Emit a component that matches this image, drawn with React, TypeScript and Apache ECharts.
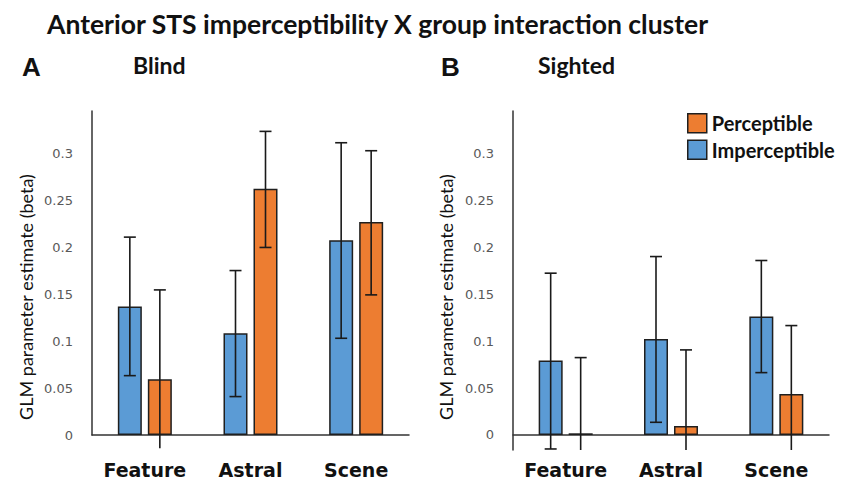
import React, { useEffect, useRef } from 'react';
import * as echarts from 'echarts';

// ---- data ----
const categories = ['Feature', 'Astral', 'Scene'];
const legendOrder = ['Perceptible', 'Imperceptible'];
const yTickValues = [0, 0.05, 0.1, 0.15, 0.2, 0.25, 0.3];

const blindImperceptible = [0.1368, 0.1084, 0.2075];
const blindImperceptibleLow = [0.0632, 0.0409, 0.103];
const blindImperceptibleHigh = [0.2107, 0.1751, 0.3112];
const blindImperceptibleLowCap = [true, true, true];

const blindPerceptible = [0.0593, 0.2622, 0.2267];
const blindPerceptibleLow = [-0.0142, 0.1997, 0.1492];
const blindPerceptibleHigh = [0.1545, 0.3233, 0.3027];
const blindPerceptibleLowCap = [false, true, true];

const sightedImperceptible = [0.0792, 0.1023, 0.1261];
const sightedImperceptibleLow = [-0.0149, 0.0135, 0.0664];
const sightedImperceptibleHigh = [0.1723, 0.19, 0.1858];
const sightedImperceptibleLowCap = [true, true, true];

const sightedPerceptible = [0.0018, 0.0096, 0.0437];
const sightedPerceptibleLow = [-0.016, -0.016, -0.016];
const sightedPerceptibleHigh = [0.0824, 0.0906, 0.1165];
const sightedPerceptibleLowCap = [false, false, false];

// ---- styles ----
const BLUE = '#5b9bd5';
const ORANGE = '#ed7d31';
const EDGE = '#1f1f1f';
const BAR_W = 24;
const BAR_OFFSET = 15;
const CAP_HALF = 6;
const CALIBRI = 'Lato, "Open Sans", sans-serif';

function barSeries(name: string, idx: number, values: number[], color: string) {
  return {
    type: 'bar',
    name,
    xAxisIndex: idx,
    yAxisIndex: idx,
    data: values,
    barWidth: BAR_W,
    barGap: '25%',
    itemStyle: { color, borderColor: EDGE, borderWidth: 1.5 },
    z: 2,
  };
}

function errorSeries(idx: number, low: number[], high: number[], lowCap: boolean[], offset: number) {
  return {
    type: 'custom',
    xAxisIndex: idx,
    yAxisIndex: idx,
    silent: true,
    z: 5,
    clip: false,
    data: categories.map((_, i) => [i, low[i], high[i], lowCap[i] ? 1 : 0]),
    encode: { x: 0, y: [1, 2] },
    renderItem: (_params: any, api: any) => {
      const xi = api.value(0);
      const lo = api.coord([xi, api.value(1)]);
      const hi = api.coord([xi, api.value(2)]);
      const cx = lo[0] + offset;
      const st = { stroke: '#1a1a1a', lineWidth: 1.6 };
      const children: any[] = [
        { type: 'line', shape: { x1: cx, y1: hi[1], x2: cx, y2: lo[1] }, style: st },
        { type: 'line', shape: { x1: cx - CAP_HALF, y1: hi[1], x2: cx + CAP_HALF, y2: hi[1] }, style: st },
      ];
      if (api.value(3) === 1) {
        children.push({ type: 'line', shape: { x1: cx - CAP_HALF, y1: lo[1], x2: cx + CAP_HALF, y2: lo[1] }, style: st });
      }
      return { type: 'group', children };
    },
  };
}

function xAxis(idx: number, margin: number) {
  return {
    type: 'category',
    gridIndex: idx,
    data: categories,
    axisLine: { onZero: true, lineStyle: { color: '#333', width: 1.5 } },
    axisTick: { show: false },
    axisLabel: {
      interval: 0,
      margin,
      color: '#111',
      fontFamily: 'DejaVu Sans',
      fontWeight: 'bold',
      fontSize: 19,
    },
  };
}

function yAxis(idx: number, min: number) {
  return {
    type: 'value',
    gridIndex: idx,
    min,
    max: 0.345,
    splitLine: { show: false },
    axisTick: { show: false },
    axisLine: { show: true, onZero: false, lineStyle: { color: '#333', width: 1.5 } },
    axisLabel: {
      customValues: yTickValues,
      margin: 19,
      color: '#595959',
      fontFamily: 'DejaVu Sans',
      fontSize: 13,
      formatter: (v: number) => String(Number(v.toFixed(2))),
    },
  };
}

export default function App() {
  const ref = useRef<HTMLDivElement>(null);
  useEffect(() => {
    if (!ref.current) return;
    const chart = echarts.init(ref.current, null, { renderer: 'svg' });
    const yNameStyle = { fill: '#111', fontFamily: CALIBRI, fontSize: 18, align: 'center', verticalAlign: 'middle' };
    chart.setOption({
      animation: false,
      backgroundColor: '#fff',
      grid: [
        { left: 92, top: 111, right: 841 - 409, bottom: 44, containLabel: false, outerBoundsMode: 'none' },
        { left: 513, top: 111, right: 841 - 829, bottom: 29, containLabel: false, outerBoundsMode: 'none' },
      ],
      xAxis: [xAxis(0, 25), xAxis(1, 10)],
      yAxis: [yAxis(0, 0), yAxis(1, -0.016)],
      legend: {
        data: legendOrder,
        orient: 'vertical',
        left: 687,
        top: 113,
        padding: 0,
        itemWidth: 19,
        itemHeight: 19,
        itemGap: 6,
        icon: 'rect',
        itemStyle: { borderColor: EDGE, borderWidth: 1.5 },
        textStyle: { fontFamily: CALIBRI, fontWeight: 'bold', fontSize: 20, color: '#111' },
      },
      graphic: [
        {
          type: 'text', left: 47, top: 10,
          style: { text: 'Anterior STS imperceptibility X group interaction cluster', fill: '#111', fontFamily: CALIBRI, fontWeight: 'bold', fontSize: 26.5 },
        },
        { type: 'text', left: 22, top: 54, style: { text: 'A', fill: '#111', fontFamily: 'Liberation Sans', fontWeight: 'bold', fontSize: 26 } },
        { type: 'text', left: 441, top: 54, style: { text: 'B', fill: '#111', fontFamily: 'Liberation Sans', fontWeight: 'bold', fontSize: 26 } },
        { type: 'text', left: 133, top: 53, style: { text: 'Blind', fill: '#111', fontFamily: CALIBRI, fontWeight: 'bold', fontSize: 23 } },
        { type: 'text', left: 538, top: 53, style: { text: 'Sighted', fill: '#111', fontFamily: CALIBRI, fontWeight: 'bold', fontSize: 23 } },
        { type: 'text', x: 26, y: 297, rotation: Math.PI / 2, style: { text: 'GLM parameter estimate (beta)', ...yNameStyle } },
        { type: 'text', x: 446, y: 297, rotation: Math.PI / 2, style: { text: 'GLM parameter estimate (beta)', ...yNameStyle } },
      ],
      series: [
        barSeries('Imperceptible', 0, blindImperceptible, BLUE),
        barSeries('Perceptible', 0, blindPerceptible, ORANGE),
        barSeries('Imperceptible', 1, sightedImperceptible, BLUE),
        barSeries('Perceptible', 1, sightedPerceptible, ORANGE),
        errorSeries(0, blindImperceptibleLow, blindImperceptibleHigh, blindImperceptibleLowCap, -BAR_OFFSET),
        errorSeries(0, blindPerceptibleLow, blindPerceptibleHigh, blindPerceptibleLowCap, BAR_OFFSET),
        errorSeries(1, sightedImperceptibleLow, sightedImperceptibleHigh, sightedImperceptibleLowCap, -BAR_OFFSET),
        errorSeries(1, sightedPerceptibleLow, sightedPerceptibleHigh, sightedPerceptibleLowCap, BAR_OFFSET),
      ],
    });
    return () => chart.dispose();
  }, []);
  return <div ref={ref} style={{ width: 841, height: 479, position: 'absolute', left: 0, top: 0 }} />;
}
